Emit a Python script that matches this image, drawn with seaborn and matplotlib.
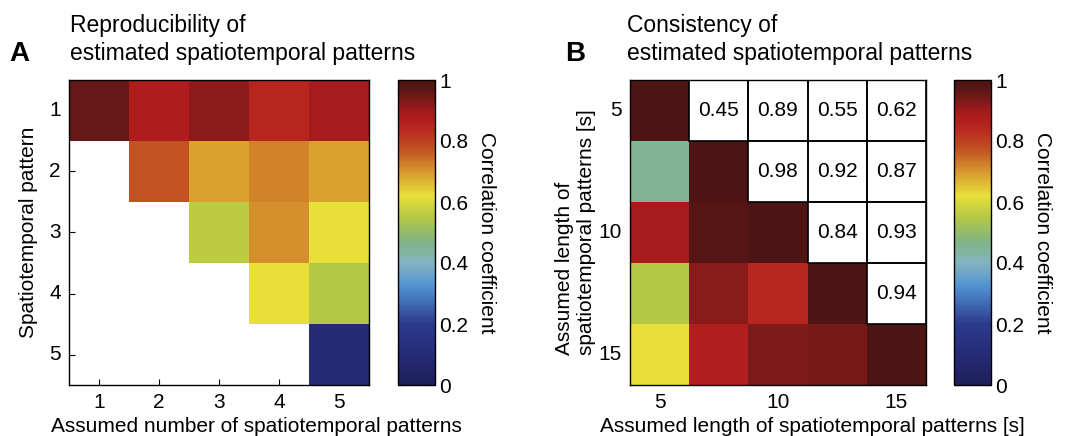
import numpy as np
import pandas as pd
import matplotlib
matplotlib.use("Agg")
import matplotlib.pyplot as plt
from matplotlib.colors import LinearSegmentedColormap, ListedColormap
from matplotlib.patches import Rectangle
import seaborn as sns

# Panel A: reproducibility (row = pattern, col = assumed number)
n_patterns = [1, 2, 3, 4, 5]
repro_row1 = [0.955, 0.875, 0.915, 0.845, 0.89]
repro_row2 = [np.nan, 0.77, 0.69, 0.72, 0.69]
repro_row3 = [np.nan, np.nan, 0.56, 0.71, 0.62]
repro_row4 = [np.nan, np.nan, np.nan, 0.62, 0.55]
repro_row5 = [np.nan, np.nan, np.nan, np.nan, 0.10]

# Panel B: consistency between assumed lengths (symmetric)
lengths = [5, 7.5, 10, 12.5, 15]
length_labels = ["5", "", "10", "", "15"]
consist_row1 = [1.00, 0.45, 0.89, 0.55, 0.62]
consist_row2 = [0.45, 1.00, 0.98, 0.92, 0.87]
consist_row3 = [0.89, 0.98, 1.00, 0.84, 0.93]
consist_row4 = [0.55, 0.92, 0.84, 1.00, 0.94]
consist_row5 = [0.62, 0.87, 0.93, 0.94, 1.00]

cbar_ticks = [0, 0.2, 0.4, 0.6, 0.8, 1]
cbar_labels = ["0", "0.2", "0.4", "0.6", "0.8", "1"]

# muted jet, sampled from the printed colour bar
_JET = LinearSegmentedColormap.from_list("muted_jet", [
    (0.00, "#1e1e5a"), (0.20, "#2c3a8e"), (0.32, "#5090d0"),
    (0.40, "#84b4c0"), (0.47, "#80b484"), (0.55, "#b4c844"),
    (0.62, "#e8e038"), (0.70, "#d8982e"), (0.77, "#c25422"),
    (0.84, "#b82820"), (0.875, "#b01c1c"), (0.90, "#a01b1b"),
    (0.93, "#801a1a"), (0.97, "#5a1616"), (1.00, "#4e1414"),
])

sns.set_style("white")
plt.rcParams["font.family"] = ["Liberation Sans", "DejaVu Sans"]
plt.rcParams["text.color"] = "black"
plt.rcParams["axes.labelcolor"] = "black"
FS = 15
TITLE_FS = 16.5

W, H = 1067, 436
fig = plt.figure(figsize=(W / 100, H / 100), dpi=100)


def _box(l, b, r, t):
    return [l / W, 1 - b / H, (r - l) / W, (b - t) / H]


def _style_axes(ax):
    for s in ax.spines.values():
        s.set_visible(True)
        s.set_color("black")
        s.set_linewidth(1.0)
    ax.tick_params(direction="in", length=4, width=0.8, bottom=True, left=True,
                   top=True, right=True, labelsize=FS, pad=6, colors="black")
    ax.tick_params(axis="x", labelrotation=0)
    ax.tick_params(axis="y", labelrotation=0)


def _style_cbar(ax, cax):
    cb = ax.collections[0].colorbar
    cb.outline.set_visible(True)
    cb.outline.set_linewidth(1.0)
    cb.outline.set_edgecolor("black")
    cb.set_ticks(cbar_ticks)
    cb.set_ticklabels(cbar_labels)
    cax.tick_params(direction="in", length=4, width=0.8, left=True, right=True,
                    labelsize=FS, pad=3, colors="black")
    cb.set_label("Correlation coefficient", rotation=270, fontsize=FS, labelpad=20)


def _title(x, lines, letter, letter_x):
    fig.text(x / W, 1 - 32 / H, lines[0], fontsize=TITLE_FS, ha="left", va="baseline")
    fig.text(x / W, 1 - 60 / H, lines[1], fontsize=TITLE_FS, ha="left", va="baseline")
    fig.text(letter_x / W, 1 - 61 / H, letter, fontsize=20, fontweight="bold",
             ha="left", va="baseline")


# ---- Panel A ----
axA = fig.add_axes(_box(69, 385, 369, 80))
caxA = fig.add_axes(_box(398, 385, 435, 80))
dfA = pd.DataFrame([repro_row1, repro_row2, repro_row3, repro_row4, repro_row5],
                   index=n_patterns, columns=n_patterns)
sns.heatmap(dfA, cmap=_JET, vmin=0, vmax=1, ax=axA, cbar_ax=caxA, square=False)
_style_axes(axA)
axA.set_xlabel("Assumed number of spatiotemporal patterns", fontsize=FS)
axA.xaxis.set_label_coords(0.625, -0.105)
axA.set_ylabel("Spatiotemporal pattern", fontsize=FS, labelpad=8)
_style_cbar(axA, caxA)
_title(70, ["Reproducibility of", "estimated spatiotemporal patterns"], "A", 9)

# ---- Panel B ----
axB = fig.add_axes(_box(630, 385, 926, 80))
caxB = fig.add_axes(_box(954, 385, 991, 80))
dfB = pd.DataFrame([consist_row1, consist_row2, consist_row3, consist_row4, consist_row5],
                   index=lengths, columns=lengths)
upper = np.triu(np.ones(dfB.shape, dtype=bool), k=1)
sns.heatmap(dfB, mask=upper, cmap=_JET, vmin=0, vmax=1, ax=axB, cbar_ax=caxB,
            xticklabels=length_labels, yticklabels=length_labels)
sns.heatmap(dfB, mask=~upper, cmap=ListedColormap(["white"]), cbar=False, ax=axB,
            annot=True, fmt=".2f", annot_kws={"size": FS, "color": "black"},
            xticklabels=length_labels, yticklabels=length_labels)
# black frame around every value cell of the upper triangle
for i, j in np.argwhere(upper):
    axB.add_patch(Rectangle((j, i), 1, 1, fill=False, edgecolor="black",
                            linewidth=1.2, zorder=3))
_style_axes(axB)
axB.set_xlabel("Assumed length of spatiotemporal patterns [s]", fontsize=FS)
axB.xaxis.set_label_coords(0.615, -0.105)
axB.set_ylabel("Assumed length of\nspatiotemporal patterns [s]", fontsize=FS,
               labelpad=2, multialignment="left")
_style_cbar(axB, caxB)
_title(627, ["Consistency of", "estimated spatiotemporal patterns"], "B", 565)

fig.savefig("out.png", dpi=100)
